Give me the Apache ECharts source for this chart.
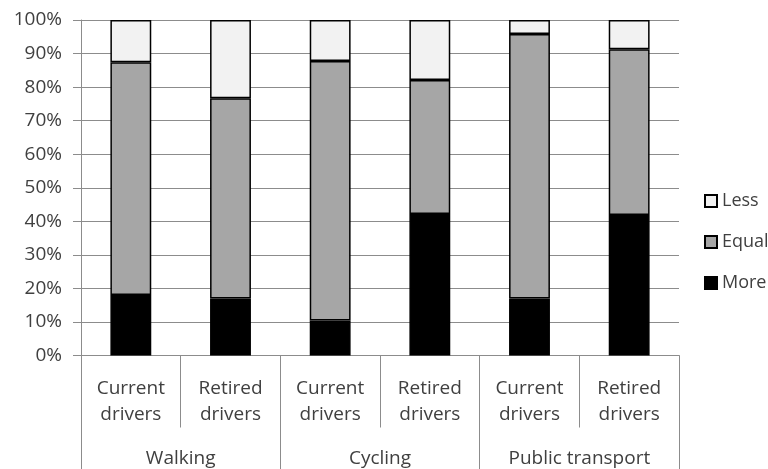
<!DOCTYPE html>
<html>
<head>
<meta charset="utf-8">
<script src="https://cdn.jsdelivr.net/npm/echarts@6/dist/echarts.min.js"></script>
<style>html,body{margin:0;padding:0;background:#fff}#c{width:768px;height:469px}</style>
</head>
<body>
<div id="c"></div>
<script>
const categories = ['Current\ndrivers','Retired\ndrivers','Current\ndrivers','Retired\ndrivers','Current\ndrivers','Retired\ndrivers'];
const groups = ['Walking','Cycling','Public transport'];
const moreValues = [18.0, 17.0, 10.4, 42.2, 17.0, 41.9];
const equalValues = [69.4, 59.7, 77.4, 39.9, 78.8, 49.4];
const lessValues = [12.6, 23.3, 12.2, 17.9, 4.2, 8.7];
const yTicks = [0,10,20,30,40,50,60,70,80,90,100];

const gridColor = '#8c8c8c';
const textColor = '#404040';
const font = 'Open Sans';

const chart = echarts.init(document.getElementById('c'));
const mk = (name, data, color) => ({
  name, type: 'bar', stack: 'total', data, barWidth: '41%',
  itemStyle: { color, borderColor: '#000', borderWidth: 1.5 }
});
chart.setOption({
  animation: false,
  backgroundColor: '#fff',
  textStyle: { fontFamily: font },
  grid: { left: 81, right: 89, top: 20, bottom: 113.5 },
  legend: {
    data: ['Less','Equal','More'], orient: 'vertical', left: 699, top: 187,
    itemWidth: 12, itemHeight: 12, itemGap: 23, icon: 'rect',
    textStyle: { fontFamily: font, fontSize: 18, lineHeight: 18, color: textColor }
  },
  xAxis: [
    { type: 'category', data: categories,
      axisLine: { lineStyle: { color: gridColor, width: 1 } },
      axisTick: { show: true, length: 72, interval: 0, lineStyle: { color: gridColor } },
      axisLabel: { interval: 0, margin: 20, fontSize: 19, lineHeight: 26, color: textColor, fontFamily: font } },
    { type: 'category', data: groups, position: 'bottom',
      axisLine: { show: false },
      axisTick: { show: true, length: 114, interval: 0, lineStyle: { color: gridColor } },
      axisLabel: { interval: 0, margin: 94, fontSize: 19, color: textColor, fontFamily: font } }
  ],
  yAxis: {
    type: 'value', min: 0, max: 100, interval: 10,
    axisLine: { show: true, lineStyle: { color: gridColor } },
    axisTick: { show: true, length: 8, lineStyle: { color: gridColor } },
    splitLine: { lineStyle: { color: gridColor } },
    axisLabel: { formatter: v => yTicks.includes(v) ? v + '%' : '', fontSize: 19, color: textColor, margin: 19, fontFamily: font }
  },
  series: [
    mk('More', moreValues, '#000000'),
    mk('Equal', equalValues, '#a6a6a6'),
    mk('Less', lessValues, '#f2f2f2')
  ]
});
</script>
</body>
</html>
